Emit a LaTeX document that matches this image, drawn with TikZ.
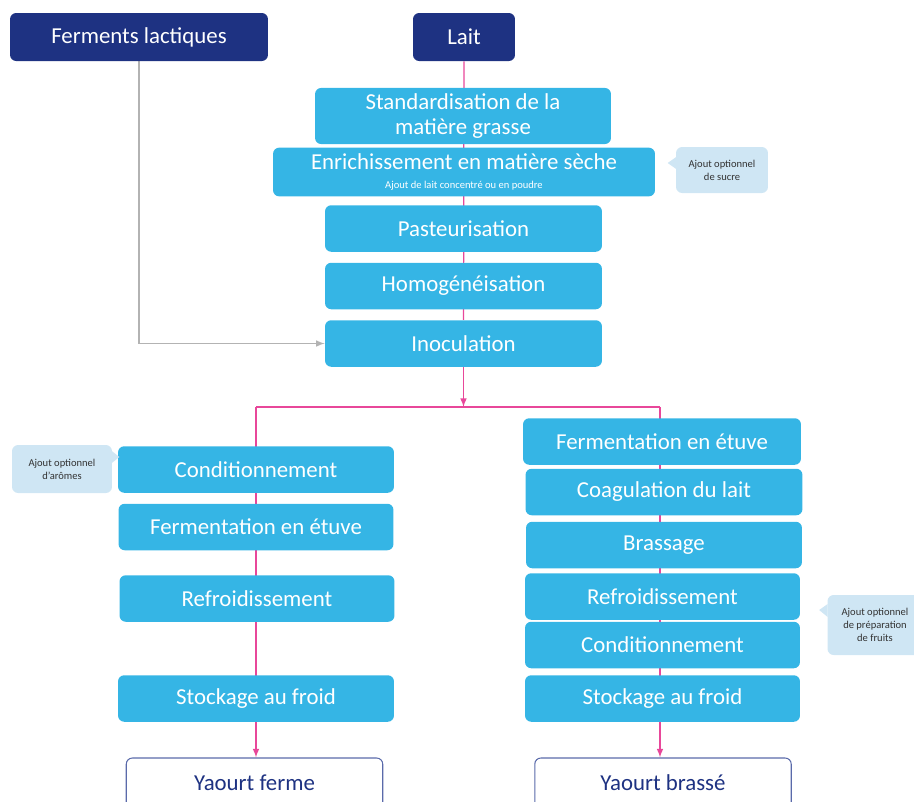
\documentclass[tikz,border=0pt]{standalone}
\usepackage{fontspec}
\setmainfont{Carlito}
\usetikzlibrary{arrows, backgrounds}
\definecolor{cyanbox}{HTML}{35B5E5}
\definecolor{navy}{HTML}{1E3282}
\definecolor{pinkline}{HTML}{E8479A}
\definecolor{calloutbg}{HTML}{CFE6F4}
\definecolor{greyline}{HTML}{B3B3B3}
\definecolor{outline}{HTML}{5A6AAA}
\tikzstyle{source} = [rectangle, rounded corners=3.5pt, minimum height=0.96cm, text centered, fill=navy, text=white, font=\fontsize{13}{15}\selectfont]
\tikzstyle{stepbox} = [rectangle, rounded corners=3.5pt, minimum height=0.93cm, text centered, align=center, fill=cyanbox, text=white, font=\fontsize{13}{14}\selectfont]
\tikzstyle{product} = [rectangle, rounded corners=3.5pt, minimum width=5.13cm, minimum height=1cm, text centered, draw=outline, line width=0.6pt, fill=white, text=navy, font=\fontsize{13}{15}\selectfont]
\tikzstyle{note} = [rectangle, rounded corners=3.5pt, text centered, align=center, fill=calloutbg, text=black!80, font=\fontsize{6}{7.5}\selectfont]
\tikzstyle{flow} = [pinkline, line width=0.7pt]
\tikzstyle{arrow} = [flow, ->, >=latex]
\tikzstyle{feed} = [greyline, line width=0.7pt, ->, >=latex]

\begin{document}
\begin{tikzpicture}[x=0.02cm, y=-0.02cm]
		\useasboundingbox (0,0) rectangle (914,802);
		% sources
		\node(ferm) [source, minimum width=5.16cm] at (139,37) {Ferments lactiques};
		\node(lait) [source, minimum width=2.04cm] at (464,37) {Lait};
		% tronc commun
		\node(stand) [stepbox, minimum width=5.92cm] at (463,116) {Standardisation de la\\matière grasse};
		\node(enrich) [stepbox, minimum width=7.64cm, font=\fontsize{13}{11}\selectfont] at (464,172) {Enrichissement en matière sèche\\{\fontsize{6}{7}\selectfont Ajout de lait concentré ou en poudre}};
		\node(past) [stepbox, minimum width=5.54cm] at (463.5,228.5) {Pasteurisation};
		\node(homo) [stepbox, minimum width=5.54cm] at (463.5,286) {Homogénéisation};
		\node(inoc) [stepbox, minimum width=5.54cm] at (463.5,343.5) {Inoculation};
		\coordinate(split) at (463.5,407);
		\coordinate(splitl) at (256,407);
		\coordinate(splitr) at (660,407);
		% yaourt ferme
		\node(cond1) [stepbox, minimum width=5.52cm] at (256,469.5) {Conditionnement};
		\node(ferm1) [stepbox, minimum width=5.5cm] at (256,527) {Fermentation en étuve};
		\node(refr1) [stepbox, minimum width=5.5cm] at (257,598.5) {Refroidissement};
		\node(stock1) [stepbox, minimum width=5.52cm] at (256,698.5) {Stockage au froid};
		\node(yf) [product] at (254.5,783) {Yaourt ferme};
		% yaourt brasse
		\node(ferm2) [stepbox, minimum width=5.56cm] at (662,441.5) {Fermentation en étuve};
		\node(coag) [stepbox, minimum width=5.54cm] at (664,492) {Coagulation du lait};
		\node(bras) [stepbox, minimum width=5.52cm] at (664,545) {Brassage};
		\node(refr2) [stepbox, minimum width=5.5cm] at (662.5,596.5) {Refroidissement};
		\node(cond2) [stepbox, minimum width=5.5cm] at (662.5,645) {Conditionnement};
		\node(stock2) [stepbox, minimum width=5.5cm] at (662.5,698.5) {Stockage au froid};
		\node(yb) [product] at (663,783) {Yaourt brassé};
		% ajouts optionnels
		\node(sucre) [note, minimum width=1.84cm, minimum height=0.92cm] at (722,170) {Ajout optionnel\\de sucre};
		\fill[calloutbg] ([shift={(0.5,-13)}]sucre.west) -- ([shift={(-8,-7)}]sucre.west) -- ([shift={(0.5,-1)}]sucre.west) -- cycle;
		\node(arome) [note, minimum width=2cm, minimum height=0.96cm] at (62,469) {Ajout optionnel\\d'arômes};
		\fill[calloutbg] ([shift={(-0.5,-18)}]arome.east) -- ([shift={(7,-12)}]arome.east) -- ([shift={(-0.5,-6)}]arome.east) -- cycle;
		\node(fruits) [note, minimum width=1.9cm, minimum height=1.2cm] at (875,625) {Ajout optionnel\\de préparation\\de fruits};
		\fill[calloutbg] ([shift={(0.5,-21)}]fruits.west) -- ([shift={(-8,-15)}]fruits.west) -- ([shift={(0.5,-8)}]fruits.west) -- cycle;
		% liaisons
		\begin{scope}[on background layer]
			\draw [flow] (lait) -- (inoc);
			\draw [arrow] (inoc) -- (split);
			\draw [flow] (splitr) -- (splitl);
			\draw [arrow] (splitl) -- (splitl |- yf.north);
			\draw [arrow] (splitr) -- (splitr |- yb.north);
			\draw [feed] (ferm.south) |- (inoc.west);
		\end{scope}
	\end{tikzpicture}
\end{document}
